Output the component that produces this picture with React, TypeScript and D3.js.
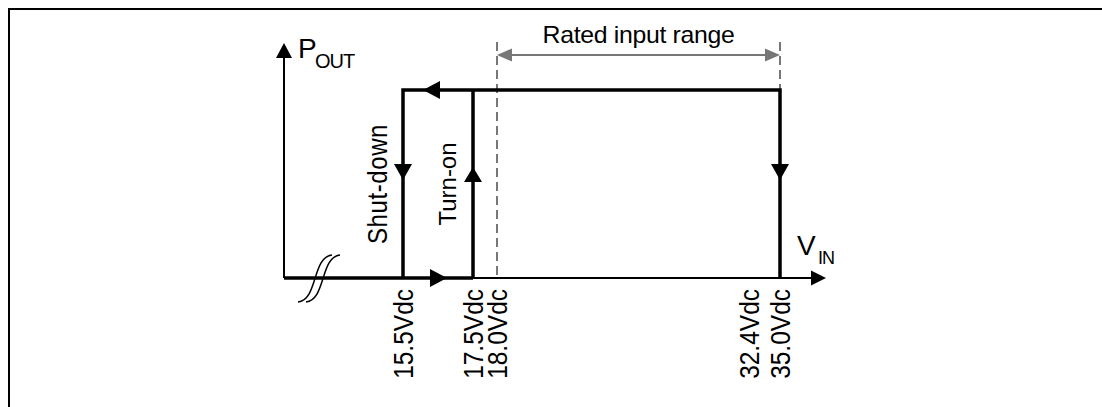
import * as d3 from "d3";

const W = 1102;
const H = 407;

// input-voltage thresholds (Vdc) shown under the axis
const thresholds = [15.5, 17.5, 18.0, 32.4, 35.0];
const thresholdLabels = ["15.5Vdc", "17.5Vdc", "18.0Vdc", "32.4Vdc", "35.0Vdc"];
const shutDownV = 15.5;
const turnOnV = 17.5;
const ratedRange = [18.0, 35.0];
// hysteresis loop as [Vin, Pout (normalised)]
const loop: [number, number][] = [
  [15.5, 0],
  [15.5, 1],
  [35.0, 1],
  [35.0, 0],
];
const axisOrigin = 0;
const axisEnd = 37;

const font = "'Liberation Sans', Arial, sans-serif";

// schematic (not to scale) voltage axis
const x = d3
  .scaleLinear()
  .domain([axisOrigin, ...thresholds, axisEnd])
  .range([284, 403, 473, 497, 749, 780, 826]);

const y = d3.scaleLinear().domain([0, 1.25]).range([278, 43]);

type Dir = "left" | "right" | "up" | "down";

// triangle arrow head with its tip at (tx, ty)
function head(tx: number, ty: number, dir: Dir, len = 17, w = 17) {
  const h = w / 2;
  const p = d3.path();
  if (dir === "right") {
    p.moveTo(tx, ty);
    p.lineTo(tx - len, ty - h);
    p.lineTo(tx - len, ty + h);
  } else if (dir === "left") {
    p.moveTo(tx, ty);
    p.lineTo(tx + len, ty - h);
    p.lineTo(tx + len, ty + h);
  } else if (dir === "up") {
    p.moveTo(tx, ty);
    p.lineTo(tx - h, ty + len);
    p.lineTo(tx + h, ty + len);
  } else {
    p.moveTo(tx, ty);
    p.lineTo(tx - h, ty - len);
    p.lineTo(tx + h, ty - len);
  }
  p.closePath();
  return p.toString();
}

export default function App() {
  const line = d3
    .line<[number, number]>()
    .x((d) => x(d[0]))
    .y((d) => y(d[1]));

  const x0 = x(axisOrigin);
  const y0 = y(0);
  const yTop = y(1);
  const yMid = (y0 + yTop) / 2;
  const rangeY = 55;

  // axis break mark
  const brk = (dx: number) => {
    const p = d3.path();
    p.moveTo(x0 + 14 + dx, y0 + 24);
    p.bezierCurveTo(x0 + 34 + dx, y0 + 22, x0 + 28 + dx, y0 - 21, x0 + 48 + dx, y0 - 23);
    return p.toString();
  };

  return (
    <svg
      width={W}
      height={H}
      style={{ position: "absolute", left: 0, top: 0, background: "#fff" }}
      fontFamily={font}
    >
      <rect x={9} y={9} width={W + 20} height={H + 20} fill="none" stroke="#000" strokeWidth={2} />

      {/* dashed rated-range limits */}
      {ratedRange.map((v, i) => (
        <line
          key={i}
          x1={x(v)}
          x2={x(v)}
          y1={42}
          y2={y0}
          stroke="#777"
          strokeWidth={2}
          strokeDasharray="9,5"
        />
      ))}
      <line
        x1={x(ratedRange[0]) + 10}
        x2={x(ratedRange[1]) - 10}
        y1={rangeY}
        y2={rangeY}
        stroke="#777"
        strokeWidth={2}
      />
      <path d={head(x(ratedRange[0]), rangeY, "left", 15, 13)} fill="#777" />
      <path d={head(x(ratedRange[1]), rangeY, "right", 15, 13)} fill="#777" />
      <text
        transform={`translate(${(x(ratedRange[0]) + x(ratedRange[1])) / 2},43) scale(1.08,1)`}
        textAnchor="middle"
        fontSize={23}
        letterSpacing={-0.3}
      >
        Rated input range
      </text>

      {/* axes */}
      <line x1={x0} x2={x0} y1={y0} y2={y(1.25) + 10} stroke="#000" strokeWidth={2} />
      <path d={head(x0, y(1.25), "up", 15, 16)} fill="#000" />
      <line x1={x0} x2={x(turnOnV)} y1={y0} y2={y0} stroke="#000" strokeWidth={3.5} />
      <line x1={x(turnOnV)} x2={x(axisEnd) - 10} y1={y0} y2={y0} stroke="#000" strokeWidth={2} />
      <path d={head(x(axisEnd), y0, "right", 15, 15)} fill="#000" />
      <path d={brk(0)} fill="none" stroke="#000" strokeWidth={1.5} />
      <path d={brk(8)} fill="none" stroke="#000" strokeWidth={1.5} />

      {/* hysteresis loop */}
      <path d={line(loop) ?? ""} fill="none" stroke="#000" strokeWidth={3.5} strokeLinejoin="miter" />
      <line
        x1={x(turnOnV)}
        x2={x(turnOnV)}
        y1={y0}
        y2={yTop}
        stroke="#000"
        strokeWidth={3.5}
      />
      <path d={head(x(shutDownV) + 20, yTop, "left", 17, 18)} fill="#000" />
      <path d={head(x(shutDownV), yMid - 4, "down", 16, 18)} fill="#000" />
      <path d={head(x(turnOnV), yMid - 17, "up", 15, 18)} fill="#000" />
      <path d={head(x(35.0), yMid - 4, "down", 16, 18)} fill="#000" />
      <path d={head(x(shutDownV) + 44, y0, "right", 17, 18)} fill="#000" />

      {/* loop labels */}
      <text
        transform={`translate(${x(shutDownV) - 26},${yMid}) rotate(-90) scale(1,1.15)`}
        textAnchor="middle"
        dy="0.35em"
        fontSize={24}
        letterSpacing={0.6}
      >
        Shut-down
      </text>
      <text
        transform={`translate(${x(turnOnV) - 25},${yMid}) rotate(-90)`}
        textAnchor="middle"
        dy="0.35em"
        fontSize={24}
      >
        Turn-on
      </text>

      {/* axis titles */}
      <text x={x0 + 14} y={58} fontSize={28}>
        P
      </text>
      <text x={x0 + 31} y={68} fontSize={20} letterSpacing={-1}>
        OUT
      </text>
      <text x={797} y={255} fontSize={28}>
        V
      </text>
      <text x={818} y={264} fontSize={18} letterSpacing={-1}>
        IN
      </text>

      {/* threshold labels */}
      {thresholds.map((v, i) => (
        <text
          key={i}
          transform={`translate(${x(v)},${y0 + 11}) rotate(-90) scale(1,1.15)`}
          textAnchor="end"
          dy="0.36em"
          fontSize={24.5}
        >
          {thresholdLabels[i]}
        </text>
      ))}
    </svg>
  );
}
